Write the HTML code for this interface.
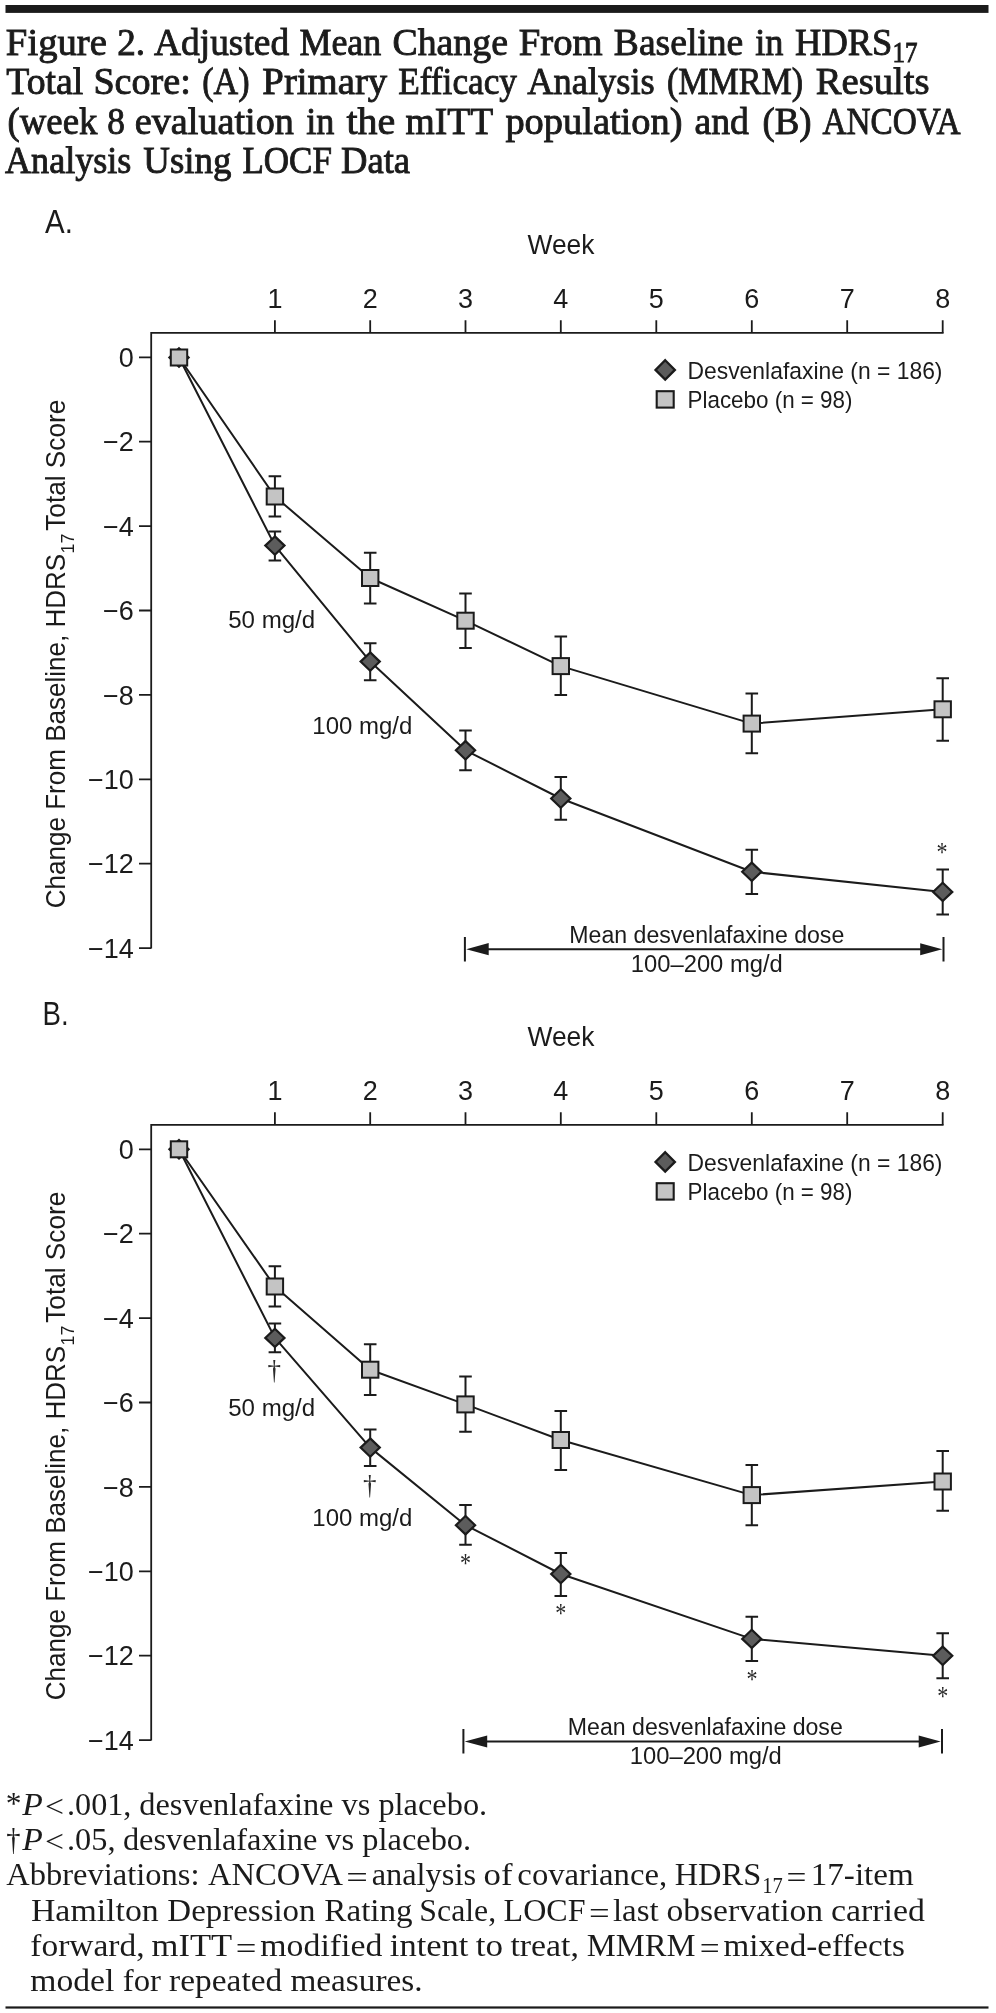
<!DOCTYPE html>
<html lang="en"><head><meta charset="utf-8"><title>Figure 2. Adjusted Mean Change From Baseline in HDRS17 Total Score</title>
<style>html,body{margin:0;padding:0;background:#fff;}body{width:996px;height:2013px;overflow:hidden;}svg{display:block;will-change:transform;}</style>
</head><body>
<svg width="996" height="2013" viewBox="0 0 996 2013">
<rect x="5.5" y="5" width="983" height="7.9" fill="#1b1b1b"/>
<text x="5.89" y="54.9" font-family="'Liberation Serif', 'Times New Roman', serif" font-size="38.5" textLength="101.04" lengthAdjust="spacingAndGlyphs" fill="#1b1b1b" stroke="#1b1b1b" stroke-width="0.9">Figure</text>
<text x="117.23" y="54.9" font-family="'Liberation Serif', 'Times New Roman', serif" font-size="38.5" textLength="27.88" lengthAdjust="spacingAndGlyphs" fill="#1b1b1b" stroke="#1b1b1b" stroke-width="0.9">2.</text>
<text x="154.0" y="54.9" font-family="'Liberation Serif', 'Times New Roman', serif" font-size="38.5" textLength="135.13" lengthAdjust="spacingAndGlyphs" fill="#1b1b1b" stroke="#1b1b1b" stroke-width="0.9">Adjusted</text>
<text x="299.47" y="54.9" font-family="'Liberation Serif', 'Times New Roman', serif" font-size="38.5" textLength="81.83" lengthAdjust="spacingAndGlyphs" fill="#1b1b1b" stroke="#1b1b1b" stroke-width="0.9">Mean</text>
<text x="392.52" y="54.9" font-family="'Liberation Serif', 'Times New Roman', serif" font-size="38.5" textLength="115.38" lengthAdjust="spacingAndGlyphs" fill="#1b1b1b" stroke="#1b1b1b" stroke-width="0.9">Change</text>
<text x="518.79" y="54.9" font-family="'Liberation Serif', 'Times New Roman', serif" font-size="38.5" textLength="83.95" lengthAdjust="spacingAndGlyphs" fill="#1b1b1b" stroke="#1b1b1b" stroke-width="0.9">From</text>
<text x="613.82" y="54.9" font-family="'Liberation Serif', 'Times New Roman', serif" font-size="38.5" textLength="129.44" lengthAdjust="spacingAndGlyphs" fill="#1b1b1b" stroke="#1b1b1b" stroke-width="0.9">Baseline</text>
<text x="755.2" y="54.9" font-family="'Liberation Serif', 'Times New Roman', serif" font-size="38.5" textLength="28.26" lengthAdjust="spacingAndGlyphs" fill="#1b1b1b" stroke="#1b1b1b" stroke-width="0.9">in</text>
<text x="795.05" y="54.9" font-family="'Liberation Serif', 'Times New Roman', serif" font-size="38.5" textLength="97.36" lengthAdjust="spacingAndGlyphs" fill="#1b1b1b" stroke="#1b1b1b" stroke-width="0.9">HDRS</text>
<text x="6.3" y="94.2" font-family="'Liberation Serif', 'Times New Roman', serif" font-size="38.5" textLength="77.05" lengthAdjust="spacingAndGlyphs" fill="#1b1b1b" stroke="#1b1b1b" stroke-width="0.9">Total</text>
<text x="93.42" y="94.2" font-family="'Liberation Serif', 'Times New Roman', serif" font-size="38.5" textLength="97.42" lengthAdjust="spacingAndGlyphs" fill="#1b1b1b" stroke="#1b1b1b" stroke-width="0.9">Score:</text>
<text x="202.21" y="94.2" font-family="'Liberation Serif', 'Times New Roman', serif" font-size="38.5" textLength="47.37" lengthAdjust="spacingAndGlyphs" fill="#1b1b1b" stroke="#1b1b1b" stroke-width="0.9">(A)</text>
<text x="262.39" y="94.2" font-family="'Liberation Serif', 'Times New Roman', serif" font-size="38.5" textLength="124.85" lengthAdjust="spacingAndGlyphs" fill="#1b1b1b" stroke="#1b1b1b" stroke-width="0.9">Primary</text>
<text x="398.18" y="94.2" font-family="'Liberation Serif', 'Times New Roman', serif" font-size="38.5" textLength="118.83" lengthAdjust="spacingAndGlyphs" fill="#1b1b1b" stroke="#1b1b1b" stroke-width="0.9">Efficacy</text>
<text x="527.3" y="94.2" font-family="'Liberation Serif', 'Times New Roman', serif" font-size="38.5" textLength="127.41" lengthAdjust="spacingAndGlyphs" fill="#1b1b1b" stroke="#1b1b1b" stroke-width="0.9">Analysis</text>
<text x="666.92" y="94.2" font-family="'Liberation Serif', 'Times New Roman', serif" font-size="38.5" textLength="136.3" lengthAdjust="spacingAndGlyphs" fill="#1b1b1b" stroke="#1b1b1b" stroke-width="0.9">(MMRM)</text>
<text x="815.7" y="94.2" font-family="'Liberation Serif', 'Times New Roman', serif" font-size="38.5" textLength="113.9" lengthAdjust="spacingAndGlyphs" fill="#1b1b1b" stroke="#1b1b1b" stroke-width="0.9">Results</text>
<text x="7.55" y="134.0" font-family="'Liberation Serif', 'Times New Roman', serif" font-size="38.5" textLength="89.81" lengthAdjust="spacingAndGlyphs" fill="#1b1b1b" stroke="#1b1b1b" stroke-width="0.9">(week</text>
<text x="107.28" y="134.0" font-family="'Liberation Serif', 'Times New Roman', serif" font-size="38.5" textLength="17.66" lengthAdjust="spacingAndGlyphs" fill="#1b1b1b" stroke="#1b1b1b" stroke-width="0.9">8</text>
<text x="134.81" y="134.0" font-family="'Liberation Serif', 'Times New Roman', serif" font-size="38.5" textLength="159.05" lengthAdjust="spacingAndGlyphs" fill="#1b1b1b" stroke="#1b1b1b" stroke-width="0.9">evaluation</text>
<text x="306.3" y="134.0" font-family="'Liberation Serif', 'Times New Roman', serif" font-size="38.5" textLength="28.16" lengthAdjust="spacingAndGlyphs" fill="#1b1b1b" stroke="#1b1b1b" stroke-width="0.9">in</text>
<text x="346.4" y="134.0" font-family="'Liberation Serif', 'Times New Roman', serif" font-size="38.5" textLength="48.79" lengthAdjust="spacingAndGlyphs" fill="#1b1b1b" stroke="#1b1b1b" stroke-width="0.9">the</text>
<text x="405.6" y="134.0" font-family="'Liberation Serif', 'Times New Roman', serif" font-size="38.5" textLength="87.72" lengthAdjust="spacingAndGlyphs" fill="#1b1b1b" stroke="#1b1b1b" stroke-width="0.9">mITT</text>
<text x="505.4" y="134.0" font-family="'Liberation Serif', 'Times New Roman', serif" font-size="38.5" textLength="177.1" lengthAdjust="spacingAndGlyphs" fill="#1b1b1b" stroke="#1b1b1b" stroke-width="0.9">population)</text>
<text x="694.42" y="134.0" font-family="'Liberation Serif', 'Times New Roman', serif" font-size="38.5" textLength="54.46" lengthAdjust="spacingAndGlyphs" fill="#1b1b1b" stroke="#1b1b1b" stroke-width="0.9">and</text>
<text x="762.44" y="134.0" font-family="'Liberation Serif', 'Times New Roman', serif" font-size="38.5" textLength="49.23" lengthAdjust="spacingAndGlyphs" fill="#1b1b1b" stroke="#1b1b1b" stroke-width="0.9">(B)</text>
<text x="822.4" y="134.0" font-family="'Liberation Serif', 'Times New Roman', serif" font-size="38.5" textLength="138.27" lengthAdjust="spacingAndGlyphs" fill="#1b1b1b" stroke="#1b1b1b" stroke-width="0.9">ANCOVA</text>
<text x="5.0" y="172.8" font-family="'Liberation Serif', 'Times New Roman', serif" font-size="38.5" textLength="126.4" lengthAdjust="spacingAndGlyphs" fill="#1b1b1b" stroke="#1b1b1b" stroke-width="0.9">Analysis</text>
<text x="143.3" y="172.8" font-family="'Liberation Serif', 'Times New Roman', serif" font-size="38.5" textLength="88.09" lengthAdjust="spacingAndGlyphs" fill="#1b1b1b" stroke="#1b1b1b" stroke-width="0.9">Using</text>
<text x="242.39" y="172.8" font-family="'Liberation Serif', 'Times New Roman', serif" font-size="38.5" textLength="89.6" lengthAdjust="spacingAndGlyphs" fill="#1b1b1b" stroke="#1b1b1b" stroke-width="0.9">LOCF</text>
<text x="341.05" y="172.8" font-family="'Liberation Serif', 'Times New Roman', serif" font-size="38.5" textLength="69.05" lengthAdjust="spacingAndGlyphs" fill="#1b1b1b" stroke="#1b1b1b" stroke-width="0.9">Data</text>
<text x="892.6" y="62.4" font-family="'Liberation Serif', 'Times New Roman', serif" font-size="28.5" textLength="25" lengthAdjust="spacingAndGlyphs" fill="#1b1b1b" stroke="#1b1b1b" stroke-width="0.9">17</text>
<text x="45.1" y="232.8" font-family="'Liberation Sans', Arial, sans-serif" font-size="33" textLength="27.8" lengthAdjust="spacingAndGlyphs" fill="#1b1b1b">A.</text>
<text x="527.5" y="253.7" font-family="'Liberation Sans', Arial, sans-serif" font-size="28.5" textLength="67" lengthAdjust="spacingAndGlyphs" fill="#1b1b1b">Week</text>
<text x="274.9" y="308.2" font-family="'Liberation Sans', Arial, sans-serif" font-size="27" text-anchor="middle" fill="#1b1b1b">1</text>
<text x="370.2" y="308.2" font-family="'Liberation Sans', Arial, sans-serif" font-size="27" text-anchor="middle" fill="#1b1b1b">2</text>
<text x="465.5" y="308.2" font-family="'Liberation Sans', Arial, sans-serif" font-size="27" text-anchor="middle" fill="#1b1b1b">3</text>
<text x="560.8" y="308.2" font-family="'Liberation Sans', Arial, sans-serif" font-size="27" text-anchor="middle" fill="#1b1b1b">4</text>
<text x="656.3" y="308.2" font-family="'Liberation Sans', Arial, sans-serif" font-size="27" text-anchor="middle" fill="#1b1b1b">5</text>
<text x="751.8" y="308.2" font-family="'Liberation Sans', Arial, sans-serif" font-size="27" text-anchor="middle" fill="#1b1b1b">6</text>
<text x="847.2" y="308.2" font-family="'Liberation Sans', Arial, sans-serif" font-size="27" text-anchor="middle" fill="#1b1b1b">7</text>
<text x="942.7" y="308.2" font-family="'Liberation Sans', Arial, sans-serif" font-size="27" text-anchor="middle" fill="#1b1b1b">8</text>
<path d="M150.3 332.8 H943.6 M151.2 331.90000000000003 V948.6" stroke="#1b1b1b" stroke-width="1.8" fill="none"/>
<path d="M274.9 332.8 V320.2 M370.2 332.8 V320.2 M465.5 332.8 V320.2 M560.8 332.8 V320.2 M656.3 332.8 V320.2 M751.8 332.8 V320.2 M847.2 332.8 V320.2 M942.7 332.8 V320.2 " stroke="#1b1b1b" stroke-width="1.8" fill="none"/>
<text x="133.8" y="366.90000000000003" font-family="'Liberation Sans', Arial, sans-serif" font-size="27" text-anchor="end" fill="#1b1b1b">0</text>
<text x="133.8" y="451.30000000000007" font-family="'Liberation Sans', Arial, sans-serif" font-size="27" text-anchor="end" fill="#1b1b1b">−2</text>
<text x="133.8" y="535.7" font-family="'Liberation Sans', Arial, sans-serif" font-size="27" text-anchor="end" fill="#1b1b1b">−4</text>
<text x="133.8" y="620.1" font-family="'Liberation Sans', Arial, sans-serif" font-size="27" text-anchor="end" fill="#1b1b1b">−6</text>
<text x="133.8" y="704.5000000000001" font-family="'Liberation Sans', Arial, sans-serif" font-size="27" text-anchor="end" fill="#1b1b1b">−8</text>
<text x="133.8" y="788.9" font-family="'Liberation Sans', Arial, sans-serif" font-size="27" text-anchor="end" fill="#1b1b1b">−10</text>
<text x="133.8" y="873.3000000000001" font-family="'Liberation Sans', Arial, sans-serif" font-size="27" text-anchor="end" fill="#1b1b1b">−12</text>
<text x="133.8" y="957.7000000000002" font-family="'Liberation Sans', Arial, sans-serif" font-size="27" text-anchor="end" fill="#1b1b1b">−14</text>
<path d="M139 357.3 H151.2 M139 441.7 H151.2 M139 526.1 H151.2 M139 610.5 H151.2 M139 694.9 H151.2 M139 779.3 H151.2 M139 863.7 H151.2 M139 948.1 H151.2 " stroke="#1b1b1b" stroke-width="1.8" fill="none"/>
<g transform="translate(65 908.2) rotate(-90)"><text x="0" y="0" font-family="'Liberation Sans', Arial, sans-serif" font-size="28.3" textLength="354.4" lengthAdjust="spacingAndGlyphs" fill="#1b1b1b">Change From Baseline, HDRS</text><text x="354.7" y="8.9" font-family="'Liberation Sans', Arial, sans-serif" font-size="18" textLength="20" lengthAdjust="spacingAndGlyphs" fill="#1b1b1b">17</text><text x="377.4" y="0" font-family="'Liberation Sans', Arial, sans-serif" font-size="28.3" textLength="131.2" lengthAdjust="spacingAndGlyphs" fill="#1b1b1b">Total Score</text></g>
<polyline points="179.0,357.5 274.9,496.5 370.2,578.0 465.5,620.7 560.8,666.1 751.8,723.6 942.7,709.3" stroke="#1b1b1b" stroke-width="2" fill="none" stroke-linejoin="round"/>
<polyline points="179.0,357.5 274.9,545.6 370.2,661.6 465.5,750.3 560.8,798.5 751.8,871.8 942.7,891.9" stroke="#1b1b1b" stroke-width="2" fill="none" stroke-linejoin="round"/>
<path d="M274.9 476.2 V516.4 M268.59999999999997 476.2 H281.2 M268.59999999999997 516.4 H281.2 M370.2 552.7 V603.5 M363.9 552.7 H376.5 M363.9 603.5 H376.5 M465.5 593.5 V648.0 M459.2 593.5 H471.8 M459.2 648.0 H471.8 M560.8 636.5 V695.0 M554.5 636.5 H567.0999999999999 M554.5 695.0 H567.0999999999999 M751.8 693.5 V753.3 M745.5 693.5 H758.0999999999999 M745.5 753.3 H758.0999999999999 M942.7 678.3 V740.8 M936.4000000000001 678.3 H949.0 M936.4000000000001 740.8 H949.0 M274.9 531.5 V560.4 M268.59999999999997 531.5 H281.2 M268.59999999999997 560.4 H281.2 M370.2 643.3 V680.3 M363.9 643.3 H376.5 M363.9 680.3 H376.5 M465.5 730.4 V770.2 M459.2 730.4 H471.8 M459.2 770.2 H471.8 M560.8 777.0 V819.7 M554.5 777.0 H567.0999999999999 M554.5 819.7 H567.0999999999999 M751.8 849.7 V893.9 M745.5 849.7 H758.0999999999999 M745.5 893.9 H758.0999999999999 M942.7 869.5 V914.5 M936.4000000000001 869.5 H949.0 M936.4000000000001 914.5 H949.0 " stroke="#1b1b1b" stroke-width="2" fill="none"/>
<path d="M179.0 348.3 L188.6 357.5 L179.0 366.7 L169.4 357.5 Z" fill="#5c5c5c" stroke="#1b1b1b" stroke-width="2.2"/>
<path d="M274.9 536.4 L284.5 545.6 L274.9 554.8000000000001 L265.29999999999995 545.6 Z" fill="#5c5c5c" stroke="#1b1b1b" stroke-width="2.2"/>
<path d="M370.2 652.4 L379.8 661.6 L370.2 670.8000000000001 L360.59999999999997 661.6 Z" fill="#5c5c5c" stroke="#1b1b1b" stroke-width="2.2"/>
<path d="M465.5 741.0999999999999 L475.1 750.3 L465.5 759.5 L455.9 750.3 Z" fill="#5c5c5c" stroke="#1b1b1b" stroke-width="2.2"/>
<path d="M560.8 789.3 L570.4 798.5 L560.8 807.7 L551.1999999999999 798.5 Z" fill="#5c5c5c" stroke="#1b1b1b" stroke-width="2.2"/>
<path d="M751.8 862.5999999999999 L761.4 871.8 L751.8 881.0 L742.1999999999999 871.8 Z" fill="#5c5c5c" stroke="#1b1b1b" stroke-width="2.2"/>
<path d="M942.7 882.6999999999999 L952.3000000000001 891.9 L942.7 901.1 L933.1 891.9 Z" fill="#5c5c5c" stroke="#1b1b1b" stroke-width="2.2"/>
<rect x="170.8" y="349.5" width="16.4" height="16.0" fill="#c4c4c4" stroke="#1b1b1b" stroke-width="2"/>
<rect x="266.7" y="488.5" width="16.4" height="16.0" fill="#c4c4c4" stroke="#1b1b1b" stroke-width="2"/>
<rect x="362.0" y="570.0" width="16.4" height="16.0" fill="#c4c4c4" stroke="#1b1b1b" stroke-width="2"/>
<rect x="457.3" y="612.7" width="16.4" height="16.0" fill="#c4c4c4" stroke="#1b1b1b" stroke-width="2"/>
<rect x="552.5999999999999" y="658.1" width="16.4" height="16.0" fill="#c4c4c4" stroke="#1b1b1b" stroke-width="2"/>
<rect x="743.5999999999999" y="715.6" width="16.4" height="16.0" fill="#c4c4c4" stroke="#1b1b1b" stroke-width="2"/>
<rect x="934.5" y="701.3" width="16.4" height="16.0" fill="#c4c4c4" stroke="#1b1b1b" stroke-width="2"/>
<path d="M665.2 360.2 L674.9000000000001 369.9 L665.2 379.59999999999997 L655.5 369.9 Z" fill="#5c5c5c" stroke="#1b1b1b" stroke-width="2.3"/>
<rect x="656.7" y="391.2" width="17.0" height="16.4" fill="#c4c4c4" stroke="#1b1b1b" stroke-width="2.1"/>
<text x="687.5" y="378.9" font-family="'Liberation Sans', Arial, sans-serif" font-size="24.3" textLength="255" lengthAdjust="spacingAndGlyphs" fill="#1b1b1b">Desvenlafaxine (n = 186)</text>
<text x="687.5" y="407.9" font-family="'Liberation Sans', Arial, sans-serif" font-size="24.3" textLength="165" lengthAdjust="spacingAndGlyphs" fill="#1b1b1b">Placebo (n = 98)</text>
<text x="228.2" y="627.8" font-family="'Liberation Sans', Arial, sans-serif" font-size="23" textLength="87" lengthAdjust="spacingAndGlyphs" fill="#1b1b1b">50 mg/d</text>
<text x="312.3" y="734.2" font-family="'Liberation Sans', Arial, sans-serif" font-size="23" textLength="100" lengthAdjust="spacingAndGlyphs" fill="#1b1b1b">100 mg/d</text>
<path d="M464.9 937 V961.6 M943.5 937 V961.6 M480 949.2 H927" stroke="#1b1b1b" stroke-width="2" fill="none"/>
<path d="M466.2 949.2 L488.7 943.1 L488.7 955.3000000000001 Z M942.2 949.2 L920.2 943.2 L920.2 955.2 Z" fill="#1b1b1b"/>
<text x="569.3" y="942.5" font-family="'Liberation Sans', Arial, sans-serif" font-size="23.5" textLength="275" lengthAdjust="spacingAndGlyphs" fill="#1b1b1b">Mean desvenlafaxine dose</text>
<text x="630.8" y="971.7" font-family="'Liberation Sans', Arial, sans-serif" font-size="23.5" textLength="152" lengthAdjust="spacingAndGlyphs" fill="#1b1b1b">100–200 mg/d</text>
<g transform="translate(942 861.3000000000001) scale(0.8 1)"><text x="0" y="0" font-family="'Liberation Serif', 'Times New Roman', serif" font-size="27.5" text-anchor="middle" fill="#2a2a2a">*</text></g>
<text x="42.6" y="1024.8" font-family="'Liberation Sans', Arial, sans-serif" font-size="33" textLength="26.1" lengthAdjust="spacingAndGlyphs" fill="#1b1b1b">B.</text>
<text x="527.5" y="1045.7" font-family="'Liberation Sans', Arial, sans-serif" font-size="28.5" textLength="67" lengthAdjust="spacingAndGlyphs" fill="#1b1b1b">Week</text>
<text x="274.9" y="1100.2" font-family="'Liberation Sans', Arial, sans-serif" font-size="27" text-anchor="middle" fill="#1b1b1b">1</text>
<text x="370.2" y="1100.2" font-family="'Liberation Sans', Arial, sans-serif" font-size="27" text-anchor="middle" fill="#1b1b1b">2</text>
<text x="465.5" y="1100.2" font-family="'Liberation Sans', Arial, sans-serif" font-size="27" text-anchor="middle" fill="#1b1b1b">3</text>
<text x="560.8" y="1100.2" font-family="'Liberation Sans', Arial, sans-serif" font-size="27" text-anchor="middle" fill="#1b1b1b">4</text>
<text x="656.3" y="1100.2" font-family="'Liberation Sans', Arial, sans-serif" font-size="27" text-anchor="middle" fill="#1b1b1b">5</text>
<text x="751.8" y="1100.2" font-family="'Liberation Sans', Arial, sans-serif" font-size="27" text-anchor="middle" fill="#1b1b1b">6</text>
<text x="847.2" y="1100.2" font-family="'Liberation Sans', Arial, sans-serif" font-size="27" text-anchor="middle" fill="#1b1b1b">7</text>
<text x="942.7" y="1100.2" font-family="'Liberation Sans', Arial, sans-serif" font-size="27" text-anchor="middle" fill="#1b1b1b">8</text>
<path d="M150.3 1124.8 H943.6 M151.2 1123.8999999999999 V1740.6" stroke="#1b1b1b" stroke-width="1.8" fill="none"/>
<path d="M274.9 1124.8 V1112.2 M370.2 1124.8 V1112.2 M465.5 1124.8 V1112.2 M560.8 1124.8 V1112.2 M656.3 1124.8 V1112.2 M751.8 1124.8 V1112.2 M847.2 1124.8 V1112.2 M942.7 1124.8 V1112.2 " stroke="#1b1b1b" stroke-width="1.8" fill="none"/>
<text x="133.8" y="1158.8999999999999" font-family="'Liberation Sans', Arial, sans-serif" font-size="27" text-anchor="end" fill="#1b1b1b">0</text>
<text x="133.8" y="1243.3" font-family="'Liberation Sans', Arial, sans-serif" font-size="27" text-anchor="end" fill="#1b1b1b">−2</text>
<text x="133.8" y="1327.6999999999998" font-family="'Liberation Sans', Arial, sans-serif" font-size="27" text-anchor="end" fill="#1b1b1b">−4</text>
<text x="133.8" y="1412.1" font-family="'Liberation Sans', Arial, sans-serif" font-size="27" text-anchor="end" fill="#1b1b1b">−6</text>
<text x="133.8" y="1496.5" font-family="'Liberation Sans', Arial, sans-serif" font-size="27" text-anchor="end" fill="#1b1b1b">−8</text>
<text x="133.8" y="1580.8999999999999" font-family="'Liberation Sans', Arial, sans-serif" font-size="27" text-anchor="end" fill="#1b1b1b">−10</text>
<text x="133.8" y="1665.3" font-family="'Liberation Sans', Arial, sans-serif" font-size="27" text-anchor="end" fill="#1b1b1b">−12</text>
<text x="133.8" y="1749.6999999999998" font-family="'Liberation Sans', Arial, sans-serif" font-size="27" text-anchor="end" fill="#1b1b1b">−14</text>
<path d="M139 1149.3 H151.2 M139 1233.7 H151.2 M139 1318.1 H151.2 M139 1402.5 H151.2 M139 1486.9 H151.2 M139 1571.3 H151.2 M139 1655.7 H151.2 M139 1740.1 H151.2 " stroke="#1b1b1b" stroke-width="1.8" fill="none"/>
<g transform="translate(65 1700.2) rotate(-90)"><text x="0" y="0" font-family="'Liberation Sans', Arial, sans-serif" font-size="28.3" textLength="354.4" lengthAdjust="spacingAndGlyphs" fill="#1b1b1b">Change From Baseline, HDRS</text><text x="354.7" y="8.9" font-family="'Liberation Sans', Arial, sans-serif" font-size="18" textLength="20" lengthAdjust="spacingAndGlyphs" fill="#1b1b1b">17</text><text x="377.4" y="0" font-family="'Liberation Sans', Arial, sans-serif" font-size="28.3" textLength="131.2" lengthAdjust="spacingAndGlyphs" fill="#1b1b1b">Total Score</text></g>
<polyline points="179.0,1149.3 274.9,1286.5 370.2,1369.7 465.5,1404.4 560.8,1440.0 751.8,1495.1 942.7,1481.5" stroke="#1b1b1b" stroke-width="2" fill="none" stroke-linejoin="round"/>
<polyline points="179.0,1149.3 274.9,1337.9 370.2,1447.6 465.5,1525.2 560.8,1574.0 751.8,1638.9 942.7,1655.8" stroke="#1b1b1b" stroke-width="2" fill="none" stroke-linejoin="round"/>
<path d="M274.9 1266.2 V1306.4 M268.59999999999997 1266.2 H281.2 M268.59999999999997 1306.4 H281.2 M370.2 1344.3 V1395.1 M363.9 1344.3 H376.5 M363.9 1395.1 H376.5 M465.5 1376.6 V1431.7 M459.2 1376.6 H471.8 M459.2 1431.7 H471.8 M560.8 1411.1 V1469.9 M554.5 1411.1 H567.0999999999999 M554.5 1469.9 H567.0999999999999 M751.8 1465.0 V1525.3 M745.5 1465.0 H758.0999999999999 M745.5 1525.3 H758.0999999999999 M942.7 1451.0 V1510.8 M936.4000000000001 1451.0 H949.0 M936.4000000000001 1510.8 H949.0 M274.9 1323.4 V1352.3 M268.59999999999997 1323.4 H281.2 M268.59999999999997 1352.3 H281.2 M370.2 1429.4 V1466.0 M363.9 1429.4 H376.5 M363.9 1466.0 H376.5 M465.5 1505.0 V1544.8 M459.2 1505.0 H471.8 M459.2 1544.8 H471.8 M560.8 1553.1 V1595.9 M554.5 1553.1 H567.0999999999999 M554.5 1595.9 H567.0999999999999 M751.8 1616.8 V1661.0 M745.5 1616.8 H758.0999999999999 M745.5 1661.0 H758.0999999999999 M942.7 1633.3 V1678.3 M936.4000000000001 1633.3 H949.0 M936.4000000000001 1678.3 H949.0 " stroke="#1b1b1b" stroke-width="2" fill="none"/>
<path d="M179.0 1140.1 L188.6 1149.3 L179.0 1158.5 L169.4 1149.3 Z" fill="#5c5c5c" stroke="#1b1b1b" stroke-width="2.2"/>
<path d="M274.9 1328.7 L284.5 1337.9 L274.9 1347.1000000000001 L265.29999999999995 1337.9 Z" fill="#5c5c5c" stroke="#1b1b1b" stroke-width="2.2"/>
<path d="M370.2 1438.3999999999999 L379.8 1447.6 L370.2 1456.8 L360.59999999999997 1447.6 Z" fill="#5c5c5c" stroke="#1b1b1b" stroke-width="2.2"/>
<path d="M465.5 1516.0 L475.1 1525.2 L465.5 1534.4 L455.9 1525.2 Z" fill="#5c5c5c" stroke="#1b1b1b" stroke-width="2.2"/>
<path d="M560.8 1564.8 L570.4 1574.0 L560.8 1583.2 L551.1999999999999 1574.0 Z" fill="#5c5c5c" stroke="#1b1b1b" stroke-width="2.2"/>
<path d="M751.8 1629.7 L761.4 1638.9 L751.8 1648.1000000000001 L742.1999999999999 1638.9 Z" fill="#5c5c5c" stroke="#1b1b1b" stroke-width="2.2"/>
<path d="M942.7 1646.6 L952.3000000000001 1655.8 L942.7 1665.0 L933.1 1655.8 Z" fill="#5c5c5c" stroke="#1b1b1b" stroke-width="2.2"/>
<rect x="170.8" y="1141.3" width="16.4" height="16.0" fill="#c4c4c4" stroke="#1b1b1b" stroke-width="2"/>
<rect x="266.7" y="1278.5" width="16.4" height="16.0" fill="#c4c4c4" stroke="#1b1b1b" stroke-width="2"/>
<rect x="362.0" y="1361.7" width="16.4" height="16.0" fill="#c4c4c4" stroke="#1b1b1b" stroke-width="2"/>
<rect x="457.3" y="1396.4" width="16.4" height="16.0" fill="#c4c4c4" stroke="#1b1b1b" stroke-width="2"/>
<rect x="552.5999999999999" y="1432.0" width="16.4" height="16.0" fill="#c4c4c4" stroke="#1b1b1b" stroke-width="2"/>
<rect x="743.5999999999999" y="1487.1" width="16.4" height="16.0" fill="#c4c4c4" stroke="#1b1b1b" stroke-width="2"/>
<rect x="934.5" y="1473.5" width="16.4" height="16.0" fill="#c4c4c4" stroke="#1b1b1b" stroke-width="2"/>
<path d="M665.2 1152.2 L674.9000000000001 1161.9 L665.2 1171.6000000000001 L655.5 1161.9 Z" fill="#5c5c5c" stroke="#1b1b1b" stroke-width="2.3"/>
<rect x="656.7" y="1183.2" width="17.0" height="16.4" fill="#c4c4c4" stroke="#1b1b1b" stroke-width="2.1"/>
<text x="687.5" y="1170.9" font-family="'Liberation Sans', Arial, sans-serif" font-size="24.3" textLength="255" lengthAdjust="spacingAndGlyphs" fill="#1b1b1b">Desvenlafaxine (n = 186)</text>
<text x="687.5" y="1199.9" font-family="'Liberation Sans', Arial, sans-serif" font-size="24.3" textLength="165" lengthAdjust="spacingAndGlyphs" fill="#1b1b1b">Placebo (n = 98)</text>
<text x="228.2" y="1415.9" font-family="'Liberation Sans', Arial, sans-serif" font-size="23" textLength="87" lengthAdjust="spacingAndGlyphs" fill="#1b1b1b">50 mg/d</text>
<text x="312.3" y="1526.0" font-family="'Liberation Sans', Arial, sans-serif" font-size="23" textLength="100" lengthAdjust="spacingAndGlyphs" fill="#1b1b1b">100 mg/d</text>
<path d="M463.4 1729 V1753.6 M942.0 1729 V1753.6 M480 1741.5 H927" stroke="#1b1b1b" stroke-width="2" fill="none"/>
<path d="M464.7 1741.5 L487.2 1735.4 L487.2 1747.6 Z M940.7 1741.5 L918.7 1735.5 L918.7 1747.5 Z" fill="#1b1b1b"/>
<text x="567.8" y="1734.5" font-family="'Liberation Sans', Arial, sans-serif" font-size="23.5" textLength="275" lengthAdjust="spacingAndGlyphs" fill="#1b1b1b">Mean desvenlafaxine dose</text>
<text x="629.75" y="1763.7" font-family="'Liberation Sans', Arial, sans-serif" font-size="23.5" textLength="152" lengthAdjust="spacingAndGlyphs" fill="#1b1b1b">100–200 mg/d</text>
<text x="274.3" y="1379" font-family="'Liberation Serif', 'Times New Roman', serif" font-size="27" text-anchor="middle" fill="#2a2a2a">†</text>
<text x="369.7" y="1494" font-family="'Liberation Serif', 'Times New Roman', serif" font-size="27" text-anchor="middle" fill="#2a2a2a">†</text>
<g transform="translate(465.4 1571.9) scale(0.8 1)"><text x="0" y="0" font-family="'Liberation Serif', 'Times New Roman', serif" font-size="27.5" text-anchor="middle" fill="#2a2a2a">*</text></g>
<g transform="translate(560.8 1622.4) scale(0.8 1)"><text x="0" y="0" font-family="'Liberation Serif', 'Times New Roman', serif" font-size="27.5" text-anchor="middle" fill="#2a2a2a">*</text></g>
<g transform="translate(752 1688.0) scale(0.8 1)"><text x="0" y="0" font-family="'Liberation Serif', 'Times New Roman', serif" font-size="27.5" text-anchor="middle" fill="#2a2a2a">*</text></g>
<g transform="translate(942.7 1705.3) scale(0.8 1)"><text x="0" y="0" font-family="'Liberation Serif', 'Times New Roman', serif" font-size="27.5" text-anchor="middle" fill="#2a2a2a">*</text></g>
<text x="5.8" y="1813.6" font-family="'Liberation Serif', 'Times New Roman', serif" font-size="31.5" fill="#1b1b1b">*</text>
<text x="22.3" y="1815.1" font-family="'Liberation Serif', 'Times New Roman', serif" font-size="31.5" textLength="20.6" lengthAdjust="spacingAndGlyphs" font-style="italic" fill="#1b1b1b">P</text>
<text x="45.0" y="1816.6" font-family="'Liberation Serif', 'Times New Roman', serif" font-size="31.5" textLength="19" lengthAdjust="spacingAndGlyphs" fill="#1b1b1b">&lt;</text>
<text x="67.0" y="1815.1" font-family="'Liberation Serif', 'Times New Roman', serif" font-size="31.5" textLength="64.4" lengthAdjust="spacingAndGlyphs" fill="#1b1b1b">.001,</text>
<text x="139.3" y="1815.1" font-family="'Liberation Serif', 'Times New Roman', serif" font-size="31.5" textLength="347.9" lengthAdjust="spacingAndGlyphs" fill="#1b1b1b">desvenlafaxine vs placebo.</text>
<text x="6.2" y="1850.2" font-family="'Liberation Serif', 'Times New Roman', serif" font-size="31.5" textLength="14.3" lengthAdjust="spacingAndGlyphs" fill="#1b1b1b">†</text>
<text x="22.3" y="1850.2" font-family="'Liberation Serif', 'Times New Roman', serif" font-size="31.5" textLength="20.6" lengthAdjust="spacingAndGlyphs" font-style="italic" fill="#1b1b1b">P</text>
<text x="45.0" y="1851.7" font-family="'Liberation Serif', 'Times New Roman', serif" font-size="31.5" textLength="19" lengthAdjust="spacingAndGlyphs" fill="#1b1b1b">&lt;</text>
<text x="67.0" y="1850.2" font-family="'Liberation Serif', 'Times New Roman', serif" font-size="31.5" textLength="48.5" lengthAdjust="spacingAndGlyphs" fill="#1b1b1b">.05,</text>
<text x="122.9" y="1850.2" font-family="'Liberation Serif', 'Times New Roman', serif" font-size="31.5" textLength="348.3" lengthAdjust="spacingAndGlyphs" fill="#1b1b1b">desvenlafaxine vs placebo.</text>
<text x="6.3" y="1885.4" font-family="'Liberation Serif', 'Times New Roman', serif" font-size="31.5" textLength="193.19" lengthAdjust="spacingAndGlyphs" fill="#1b1b1b">Abbreviations:</text>
<text x="207.9" y="1885.4" font-family="'Liberation Serif', 'Times New Roman', serif" font-size="31.5" textLength="135.23" lengthAdjust="spacingAndGlyphs" fill="#1b1b1b">ANCOVA</text>
<text x="346.37" y="1888.4" font-family="'Liberation Serif', 'Times New Roman', serif" font-size="31.5" textLength="21.57" lengthAdjust="spacingAndGlyphs" fill="#1b1b1b">=</text>
<text x="371.67" y="1885.4" font-family="'Liberation Serif', 'Times New Roman', serif" font-size="31.5" textLength="104.35" lengthAdjust="spacingAndGlyphs" fill="#1b1b1b">analysis</text>
<text x="483.5" y="1885.4" font-family="'Liberation Serif', 'Times New Roman', serif" font-size="31.5" textLength="28.98" lengthAdjust="spacingAndGlyphs" fill="#1b1b1b">of</text>
<text x="517.36" y="1885.4" font-family="'Liberation Serif', 'Times New Roman', serif" font-size="31.5" textLength="149.81" lengthAdjust="spacingAndGlyphs" fill="#1b1b1b">covariance,</text>
<text x="674.67" y="1885.4" font-family="'Liberation Serif', 'Times New Roman', serif" font-size="31.5" textLength="86.52" lengthAdjust="spacingAndGlyphs" fill="#1b1b1b">HDRS</text>
<text x="786.56" y="1888.4" font-family="'Liberation Serif', 'Times New Roman', serif" font-size="31.5" textLength="19.92" lengthAdjust="spacingAndGlyphs" fill="#1b1b1b">=</text>
<text x="810.75" y="1885.4" font-family="'Liberation Serif', 'Times New Roman', serif" font-size="31.5" textLength="102.99" lengthAdjust="spacingAndGlyphs" fill="#1b1b1b">17-item</text>
<text x="30.93" y="1920.5" font-family="'Liberation Serif', 'Times New Roman', serif" font-size="31.5" textLength="127.85" lengthAdjust="spacingAndGlyphs" fill="#1b1b1b">Hamilton</text>
<text x="167.35" y="1920.5" font-family="'Liberation Serif', 'Times New Roman', serif" font-size="31.5" textLength="148.21" lengthAdjust="spacingAndGlyphs" fill="#1b1b1b">Depression</text>
<text x="324.35" y="1920.5" font-family="'Liberation Serif', 'Times New Roman', serif" font-size="31.5" textLength="88.3" lengthAdjust="spacingAndGlyphs" fill="#1b1b1b">Rating</text>
<text x="419.38" y="1920.5" font-family="'Liberation Serif', 'Times New Roman', serif" font-size="31.5" textLength="76.73" lengthAdjust="spacingAndGlyphs" fill="#1b1b1b">Scale,</text>
<text x="503.58" y="1920.5" font-family="'Liberation Serif', 'Times New Roman', serif" font-size="31.5" textLength="81.87" lengthAdjust="spacingAndGlyphs" fill="#1b1b1b">LOCF</text>
<text x="589.07" y="1923.5" font-family="'Liberation Serif', 'Times New Roman', serif" font-size="31.5" textLength="20.68" lengthAdjust="spacingAndGlyphs" fill="#1b1b1b">=</text>
<text x="612.95" y="1920.5" font-family="'Liberation Serif', 'Times New Roman', serif" font-size="31.5" textLength="45.73" lengthAdjust="spacingAndGlyphs" fill="#1b1b1b">last</text>
<text x="666.43" y="1920.5" font-family="'Liberation Serif', 'Times New Roman', serif" font-size="31.5" textLength="156.7" lengthAdjust="spacingAndGlyphs" fill="#1b1b1b">observation</text>
<text x="831.03" y="1920.5" font-family="'Liberation Serif', 'Times New Roman', serif" font-size="31.5" textLength="93.94" lengthAdjust="spacingAndGlyphs" fill="#1b1b1b">carried</text>
<text x="30.34" y="1955.7" font-family="'Liberation Serif', 'Times New Roman', serif" font-size="31.5" textLength="114.24" lengthAdjust="spacingAndGlyphs" fill="#1b1b1b">forward,</text>
<text x="151.6" y="1955.7" font-family="'Liberation Serif', 'Times New Roman', serif" font-size="31.5" textLength="80.63" lengthAdjust="spacingAndGlyphs" fill="#1b1b1b">mITT</text>
<text x="235.87" y="1958.7" font-family="'Liberation Serif', 'Times New Roman', serif" font-size="31.5" textLength="20.68" lengthAdjust="spacingAndGlyphs" fill="#1b1b1b">=</text>
<text x="260.33" y="1955.7" font-family="'Liberation Serif', 'Times New Roman', serif" font-size="31.5" textLength="121.96" lengthAdjust="spacingAndGlyphs" fill="#1b1b1b">modified</text>
<text x="389.8" y="1955.7" font-family="'Liberation Serif', 'Times New Roman', serif" font-size="31.5" textLength="78.62" lengthAdjust="spacingAndGlyphs" fill="#1b1b1b">intent</text>
<text x="475.89" y="1955.7" font-family="'Liberation Serif', 'Times New Roman', serif" font-size="31.5" textLength="27.3" lengthAdjust="spacingAndGlyphs" fill="#1b1b1b">to</text>
<text x="510.43" y="1955.7" font-family="'Liberation Serif', 'Times New Roman', serif" font-size="31.5" textLength="68.55" lengthAdjust="spacingAndGlyphs" fill="#1b1b1b">treat,</text>
<text x="586.66" y="1955.7" font-family="'Liberation Serif', 'Times New Roman', serif" font-size="31.5" textLength="108.92" lengthAdjust="spacingAndGlyphs" fill="#1b1b1b">MMRM</text>
<text x="699.76" y="1958.7" font-family="'Liberation Serif', 'Times New Roman', serif" font-size="31.5" textLength="19.92" lengthAdjust="spacingAndGlyphs" fill="#1b1b1b">=</text>
<text x="723.55" y="1955.7" font-family="'Liberation Serif', 'Times New Roman', serif" font-size="31.5" textLength="181.22" lengthAdjust="spacingAndGlyphs" fill="#1b1b1b">mixed-effects</text>
<text x="30.33" y="1990.8" font-family="'Liberation Serif', 'Times New Roman', serif" font-size="31.5" textLength="84.07" lengthAdjust="spacingAndGlyphs" fill="#1b1b1b">model</text>
<text x="122.76" y="1990.8" font-family="'Liberation Serif', 'Times New Roman', serif" font-size="31.5" textLength="38.2" lengthAdjust="spacingAndGlyphs" fill="#1b1b1b">for</text>
<text x="169.14" y="1990.8" font-family="'Liberation Serif', 'Times New Roman', serif" font-size="31.5" textLength="113.07" lengthAdjust="spacingAndGlyphs" fill="#1b1b1b">repeated</text>
<text x="290.44" y="1990.8" font-family="'Liberation Serif', 'Times New Roman', serif" font-size="31.5" textLength="132.15" lengthAdjust="spacingAndGlyphs" fill="#1b1b1b">measures.</text>
<text x="762.3" y="1893" font-family="'Liberation Serif', 'Times New Roman', serif" font-size="22.6" textLength="20.5" lengthAdjust="spacingAndGlyphs" fill="#1b1b1b">17</text>
<rect x="5.5" y="2006.4" width="983" height="2.2" fill="#1b1b1b"/>
</svg>
</body></html>
